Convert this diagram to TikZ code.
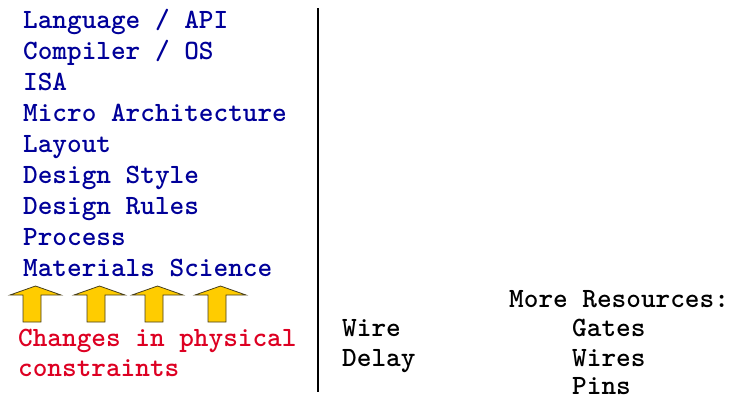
\documentclass[tikz,border=0pt]{standalone}
\usepackage{fontspec}
\definecolor{navy}{RGB}{0,0,153}
\definecolor{crimson}{RGB}{221,0,34}
\definecolor{gold}{RGB}{255,204,0}
\definecolor{goldedge}{RGB}{70,62,30}
\begin{document}
\begin{tikzpicture}[x=1pt,y=-1pt,
  txt/.style={anchor=base west,inner sep=0pt,font=\fontsize{27.9}{30}\selectfont\ttfamily\bfseries},
  layer/.style={txt,text=navy},
  note/.style={txt,text=crimson},
  plain/.style={txt,text=black},
  uparrow/.style={fill=gold,draw=goldedge,line width=0.8pt}]
\useasboundingbox (0,0) rectangle (730,399);
\node[layer] (l1) at (23,28) {Language / API};
\node[layer] (l2) at (23,59) {Compiler / OS};
\node[layer] (l3) at (23,90) {ISA};
\node[layer] (l4) at (23,121) {Micro Architecture};
\node[layer] (l5) at (23,152) {Layout};
\node[layer] (l6) at (23,183) {Design Style};
\node[layer] (l7) at (23,214) {Design Rules};
\node[layer] (l8) at (23,245) {Process};
\node[layer] (l9) at (23,276) {Materials Science};
\foreach \x in {10,74,132,195}{
  \draw[uparrow] (\x,295) -- (\x+25.5,286) -- (\x+51,295) -- (\x+31,295) -- (\x+31,322) -- (\x+13,322) -- (\x+13,295) -- cycle;
}
\node[note] (n1) at (18,346) {Changes in physical};
\node[note] (n2) at (18,376) {constraints};
\coordinate (vt) at (318,8);
\coordinate (vb) at (318,392);
\draw[line width=2pt] (vt) -- (vb);
\node[plain] (mr) at (509,307) {More Resources:};
\node[plain] (w1) at (342,336) {Wire};
\node[plain] (w2) at (342,366) {Delay};
\node[plain] (g1) at (572,336) {Gates};
\node[plain] (g2) at (572,366) {Wires};
\node[plain] (g3) at (572,394) {Pins};
\end{tikzpicture}
\end{document}
